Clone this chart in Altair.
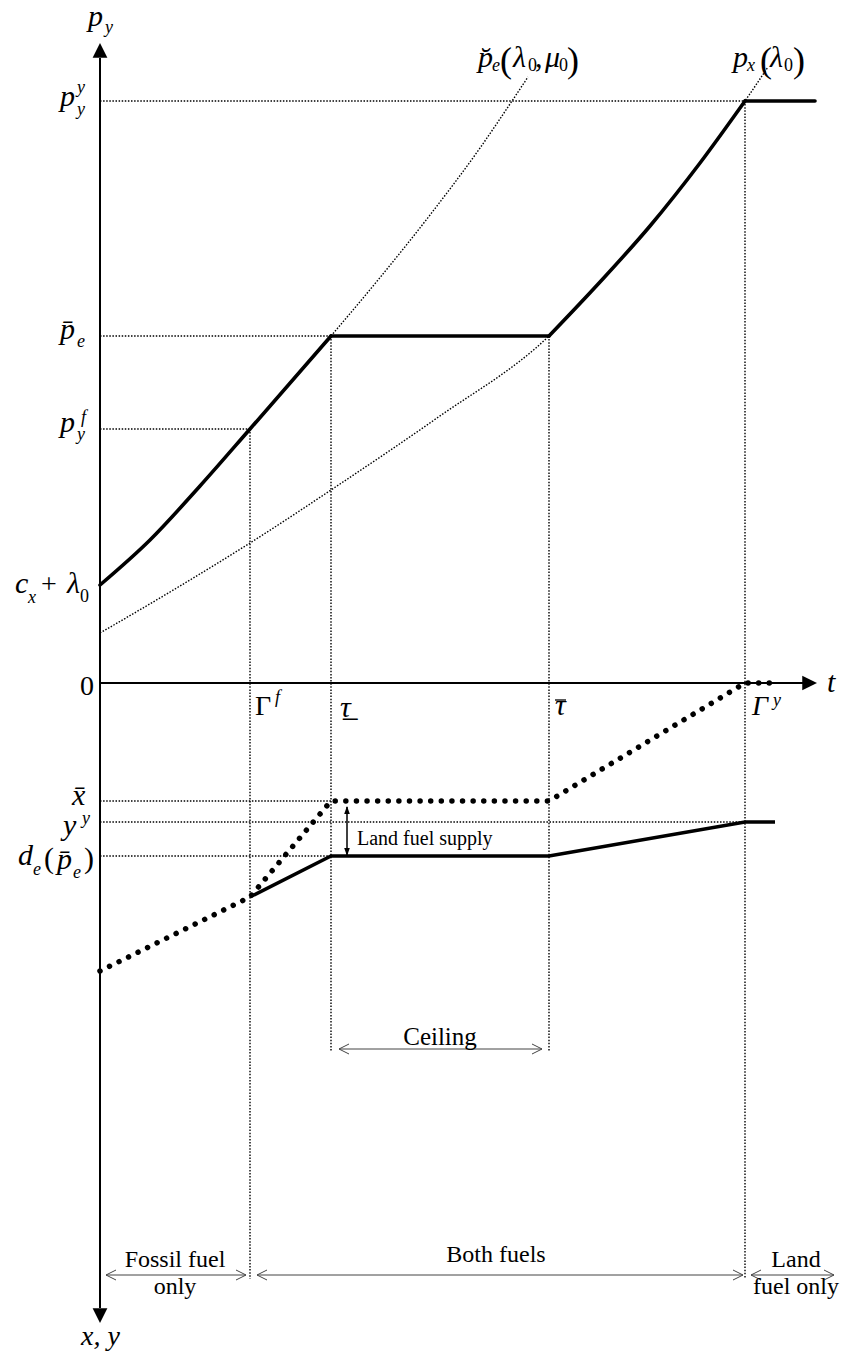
import altair as alt
import pandas as pd

# ---- key instants on the time axis ----
T_GAMMA_F = 15.0     # Γ^f : land fuel enters
T_TAU_LO = 23.1      # τ (under-bar) : ceiling starts to bind
T_TAU_HI = 44.9      # τ (over-bar)  : ceiling stops binding
T_GAMMA_Y = 64.5     # Γ^y : fossil fuel exhausted
T_AXIS_END = 71.7

# ---- price levels (upper panel, measured upward) ----
P_Y_Y = 58.2
P_E_BAR = 34.7
P_Y_F = 25.4
C_X_LAMBDA0 = 9.8

# ---- quantity levels (lower panel, measured downward) ----
X_BAR = 11.8
Y_Y = 13.9
D_E_PBAR = 17.3

# energy price path (thick solid), split at the kinks
rise1_t = [0.0, 5.0, 10.0, T_GAMMA_F, T_TAU_LO]
rise1_p = [C_X_LAMBDA0, 14.3, 19.7, P_Y_F, P_E_BAR]
ceiling_t = [T_TAU_LO, T_TAU_HI]
ceiling_p = [P_E_BAR, P_E_BAR]
rise2_t = [T_TAU_HI, 50.0, 55.0, 60.0, T_GAMMA_Y]
rise2_p = [P_E_BAR, 40.1, 45.7, 52.0, P_Y_Y]
cap_t = [T_GAMMA_Y, 71.5]
cap_p = [P_Y_Y, P_Y_Y]

# unconstrained path p̆_e(λ0, μ0) (thin dotted)
pe_breve_t = [T_TAU_LO, 27.8, 33.0, 38.0, 41.2, 42.8]
pe_breve_p = [P_E_BAR, 40.3, 46.8, 53.5, 58.2, 60.6]

# fossil fuel price p_x(λ0) (thin dotted)
px_t = [0.0, 7.5, T_GAMMA_F, 24.0, 33.7, T_TAU_HI, 50.0, 55.0, 60.0, T_GAMMA_Y, 66.8]
px_p = [5.0, 9.4, 14.0, 19.9, 26.5, P_E_BAR, 40.1, 45.7, 52.0, P_Y_Y, 61.6]

# land fuel supply y (thick solid, lower panel)
land_t = [T_GAMMA_F, T_TAU_LO, T_TAU_HI, T_GAMMA_Y, 67.5]
land_q = [21.4, D_E_PBAR, D_E_PBAR, Y_Y, Y_Y]

# fossil fuel extraction x (large dots, lower panel)
fossil_t = [0.0, T_GAMMA_F, T_TAU_LO, T_TAU_HI, T_GAMMA_Y, 67.5]
fossil_q = [28.8, 21.4, X_BAR, X_BAR, 0.0, 0.0]

# lower ends of the vertical guides and arrow rows
CEILING_ROW = -36.6
REGIME_ROW = -59.2
GUIDE_LOW = -59.6
CEILING_GUIDE_LOW = -36.8

FONT = "Liberation Serif"

xs = alt.Scale(domain=[-10.0, 74.3], nice=False, zero=False)
ys = alt.Scale(domain=[-67.3, 68.3], nice=False, zero=False)
X = lambda f: alt.X(f, type="quantitative", scale=xs, axis=None)
Y = lambda f: alt.Y(f, type="quantitative", scale=ys, axis=None)


def curve(ts, vs, name, sign=1.0):
    return pd.DataFrame({"t": ts, "lv": [sign * v for v in vs], "i": range(len(ts)), "s": name})


# dotted guide lines
guides = pd.DataFrame([
    (0.0, T_GAMMA_Y, P_Y_Y, P_Y_Y),
    (0.0, T_TAU_LO, P_E_BAR, P_E_BAR),
    (0.0, T_GAMMA_F, P_Y_F, P_Y_F),
    (0.0, T_TAU_LO, -X_BAR, -X_BAR),
    (0.0, T_GAMMA_Y, -Y_Y, -Y_Y),
    (0.0, T_TAU_LO, -D_E_PBAR, -D_E_PBAR),
    (T_GAMMA_F, T_GAMMA_F, P_Y_F, GUIDE_LOW),
    (T_TAU_LO, T_TAU_LO, P_E_BAR, CEILING_GUIDE_LOW),
    (T_TAU_HI, T_TAU_HI, P_E_BAR, CEILING_GUIDE_LOW),
    (T_GAMMA_Y, T_GAMMA_Y, P_Y_Y, GUIDE_LOW),
], columns=["t", "t2", "lv", "lv2"])

DOT = dict(color="black", strokeWidth=1.4, strokeDash=[1.5, 1.6])
guide_layer = alt.Chart(guides).mark_rule(**DOT).encode(
    x=X("t"), x2="t2", y=Y("lv"), y2="lv2")

thin_curves = pd.concat([
    curve(pe_breve_t, pe_breve_p, "pe"),
    curve(px_t, px_p, "px"),
])
thin_layer = alt.Chart(thin_curves).mark_line(interpolate="monotone", **DOT).encode(
    x=X("t"), y=Y("lv"), detail="s:N", order="i:Q")

# coordinate axes
axes = pd.DataFrame([
    (0.0, 0.0, 62.5, -62.5),
    (0.0, T_AXIS_END - 1.0, 0.0, 0.0),
], columns=["t", "t2", "lv", "lv2"])
axis_layer = alt.Chart(axes).mark_rule(color="black", strokeWidth=2).encode(
    x=X("t"), x2="t2", y=Y("lv"), y2="lv2")

heads = pd.DataFrame([
    (0.0, 64.0, "M0,0L-0.5,1L0.5,1Z"),
    (0.0, -64.0, "M0,0L-0.5,-1L0.5,-1Z"),
    (T_AXIS_END, 0.0, "M0,0L-1,-0.5L-1,0.5Z"),
], columns=["t", "lv", "shape"])
head_layer = alt.Chart(heads).mark_point(
    filled=True, color="black", opacity=1, size=870, strokeWidth=0
).encode(x=X("t"), y=Y("lv"), shape=alt.Shape("shape:N", scale=None))

# thick solid paths
solid = pd.concat([
    curve(rise1_t, rise1_p, "rise1"),
    curve(ceiling_t, ceiling_p, "ceiling"),
    curve(rise2_t, rise2_p, "rise2"),
    curve(cap_t, cap_p, "cap"),
])
solid_layer = alt.Chart(solid).mark_line(
    color="black", strokeWidth=3.6, strokeCap="round", interpolate="monotone"
).encode(x=X("t"), y=Y("lv"), detail="s:N", order="i:Q")

land_layer = alt.Chart(curve(land_t, land_q, "land", sign=-1.0)).mark_line(
    color="black", strokeWidth=3.4, strokeJoin="miter", strokeCap="butt"
).encode(x=X("t"), y=Y("lv"), order="i:Q")

dots_layer = alt.Chart(curve(fossil_t, fossil_q, "fossil", sign=-1.0)).mark_line(
    color="black", strokeWidth=5.5, strokeDash=[0.01, 10.6], strokeCap="round"
).encode(x=X("t"), y=Y("lv"), order="i:Q")

# double-headed range arrows
ranges = pd.DataFrame([
    (T_TAU_LO + 0.8, T_TAU_HI - 0.7, CEILING_ROW),
    (0.6, T_GAMMA_F - 0.4, REGIME_ROW),
    (T_GAMMA_F + 0.7, T_GAMMA_Y - 0.2, REGIME_ROW),
    (T_GAMMA_Y + 0.6, 73.4, REGIME_ROW),
], columns=["t", "t2", "lv"])
range_layer = alt.Chart(ranges).mark_rule(color="#444444", strokeWidth=1).encode(
    x=X("t"), x2="t2", y=Y("lv"))
chev = pd.concat([
    pd.DataFrame({"t": ranges["t"], "lv": ranges["lv"], "shape": "M1,-0.5L0,0L1,0.5"}),
    pd.DataFrame({"t": ranges["t2"], "lv": ranges["lv"], "shape": "M-1,-0.5L0,0L-1,0.5"}),
])
chev_layer = alt.Chart(chev).mark_point(
    filled=False, color="#444444", opacity=1, size=400, strokeWidth=1
).encode(x=X("t"), y=Y("lv"), shape=alt.Shape("shape:N", scale=None))

# land fuel supply gap arrow
SUPPLY_T = 24.7
supply = pd.DataFrame({"t": [SUPPLY_T], "lv": [-X_BAR - 0.6], "lv2": [-D_E_PBAR + 0.1]})
supply_layer = alt.Chart(supply).mark_rule(color="black", strokeWidth=1.5).encode(
    x=X("t"), y=Y("lv"), y2="lv2")
supply_heads = pd.DataFrame([
    (SUPPLY_T, -X_BAR - 0.5, "M0,0L-0.35,1L0.35,1Z"),
    (SUPPLY_T, -D_E_PBAR + 0.0, "M0,0L-0.35,-1L0.35,-1Z"),
], columns=["t", "lv", "shape"])
supply_head_layer = alt.Chart(supply_heads).mark_point(
    filled=True, color="black", opacity=1, size=256, strokeWidth=0
).encode(x=X("t"), y=Y("lv"), shape=alt.Shape("shape:N", scale=None))

# over-bar of τ̄
bars = pd.DataFrame({"t": [45.5], "t2": [46.6], "lv": [-1.7]})
bar_layer = alt.Chart(bars).mark_rule(color="black", strokeWidth=1.3).encode(
    x=X("t"), x2="t2", y=Y("lv"))

# math labels: (t, level, text, font size, style)
BIG, SUB = 30, 18
math_labels = pd.DataFrame([
    (-1.2, 65.7, "p", BIG, "italic"), (0.5, 65.0, "y", SUB, "italic"),
    (-4.0, 57.7, "p", BIG, "italic"), (-2.3, 59.0, "y", SUB, "italic"), (-2.3, 56.8, "y", SUB, "italic"),
    (-4.0, 34.4, "p\u0304", BIG, "italic"), (-2.3, 33.6, "e", SUB, "italic"),
    (-4.0, 25.1, "p", BIG, "italic"), (-1.9, 26.0, "f", SUB, "italic"), (-2.3, 24.3, "y", SUB, "italic"),
    (-8.5, 9.0, "c", BIG, "italic"), (-7.2, 8.0, "x", SUB, "italic"),
    (-5.9, 9.0, "+", 28, "normal"),
    (-3.3, 9.0, "\u03bb", BIG, "italic"), (-2.0, 8.1, "0", SUB, "normal"),
    (-2.0, -1.2, "0", 28, "normal"),
    (15.5, -3.2, "\u0393", 28, "normal"), (17.5, -2.0, "f", SUB, "italic"),
    (24.0, -3.4, "\u03c4\u0332", BIG, "italic"),
    (45.5, -3.2, "\u03c4", BIG, "italic"),
    (65.2, -3.2, "\u0393", 28, "italic"), (67.3, -2.3, "y", SUB, "italic"),
    (72.7, -0.9, "t", BIG, "italic"),
    (37.8, 61.6, "p\u0306", BIG, "italic"), (39.2, 61.2, "e", SUB, "italic"),
    (40.0, 61.1, "(", 36, "normal"), (41.3, 61.6, "\u03bb", BIG, "italic"),
    (42.8, 61.2, "0", SUB, "normal"), (43.5, 61.6, ",", BIG, "normal"),
    (44.5, 61.6, "\u03bc", BIG, "italic"), (45.9, 61.2, "0", SUB, "normal"),
    (46.7, 61.1, ")", 36, "normal"),
    (63.3, 61.6, "p", BIG, "italic"), (64.7, 61.2, "x", SUB, "italic"),
    (66.0, 61.1, "(", 36, "normal"), (67.0, 61.6, "\u03bb", BIG, "italic"),
    (68.4, 61.2, "0", SUB, "normal"), (69.3, 61.1, ")", 36, "normal"),
    (-2.8, -12.2, "x\u0304", BIG, "italic"),
    (-3.7, -15.2, "y", BIG, "italic"), (-1.8, -14.1, "y", SUB, "italic"),
    (-8.2, -18.2, "d", BIG, "italic"), (-6.7, -19.2, "e", SUB, "italic"),
    (-5.6, -18.5, "(", BIG, "normal"), (-4.3, -18.6, "p\u0304", BIG, "italic"),
    (-2.7, -19.5, "e", SUB, "italic"), (-1.6, -18.5, ")", BIG, "normal"),
    (-1.9, -66.2, "x, y", 28, "italic"),
], columns=["t", "lv", "text", "size", "style"])


def text_layer(df, style, align):
    return alt.Chart(df).mark_text(
        font=FONT, fontStyle=style, align=align, baseline="alphabetic", color="black"
    ).encode(x=X("t"), y=Y("lv"), text="text:N", size=alt.Size("size:Q", scale=None))


word_labels = pd.DataFrame([
    (34.0, -36.2, "Ceiling", 25),
    (7.5, -58.4, "Fossil fuel", 24),
    (7.5, -61.1, "only", 24),
    (39.6, -57.9, "Both fuels", 24),
    (69.6, -58.4, "Land", 24),
    (69.6, -61.1, "fuel only", 24),
], columns=["t", "lv", "text", "size"])
supply_label = pd.DataFrame([(25.7, -16.2, "Land fuel supply", 20)],
                            columns=["t", "lv", "text", "size"])

chart = alt.layer(
    guide_layer,
    thin_layer,
    axis_layer,
    head_layer,
    solid_layer,
    land_layer,
    dots_layer,
    range_layer,
    chev_layer,
    supply_layer,
    supply_head_layer,
    bar_layer,
    text_layer(math_labels[math_labels["style"] == "italic"], "italic", "left"),
    text_layer(math_labels[math_labels["style"] == "normal"], "normal", "left"),
    text_layer(word_labels, "normal", "center"),
    text_layer(supply_label, "normal", "left"),
).properties(
    width=843, height=1356, padding=0,
    autosize=alt.AutoSizeParams(type="none"),
    background="white",
).configure_view(stroke=None)

chart.save("out.html", embed_options={"renderer": "svg", "actions": False})
